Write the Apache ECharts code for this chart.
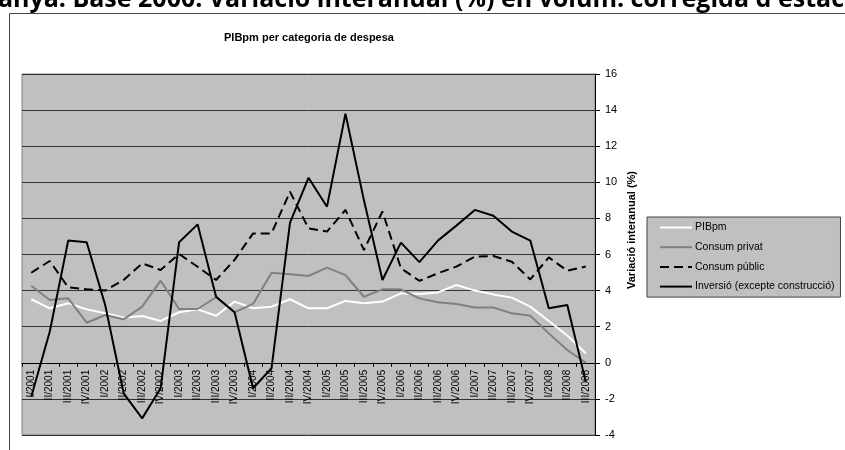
<!DOCTYPE html>
<html>
<head>
<meta charset="utf-8">
<script src="https://cdn.jsdelivr.net/npm/echarts@6/dist/echarts.min.js"></script>
<style>
  html, body { margin: 0; padding: 0; background: #fff; }
  #chart { width: 845px; height: 450px; }
</style>
</head>
<body>
<div id="chart"></div>
<script>
var categories = [
  'I/2001', 'II/2001', 'III/2001', 'IV/2001',
  'I/2002', 'II/2002', 'III/2002', 'IV/2002',
  'I/2003', 'II/2003', 'III/2003', 'IV/2003',
  'I/2004', 'II/2004', 'III/2004', 'IV/2004',
  'I/2005', 'II/2005', 'III/2005', 'IV/2005',
  'I/2006', 'II/2006', 'III/2006', 'IV/2006',
  'I/2007', 'II/2007', 'III/2007', 'IV/2007',
  'I/2008', 'II/2008', 'III/2008'
];

var pibpm = [3.52, 3.02, 3.3, 2.96, 2.74, 2.5, 2.59, 2.32, 2.8, 2.96, 2.61, 3.39, 3.02, 3.11, 3.52, 3.02,
  3.02, 3.43, 3.3, 3.39, 3.85, 3.81, 3.9, 4.31, 4.0, 3.79, 3.61, 3.11, 2.32, 1.51, 0.53];
var consumPrivat = [4.27, 3.48, 3.57, 2.22, 2.65, 2.41, 3.11, 4.55, 2.98, 2.98, 3.63, 2.8, 3.26, 4.99, 4.9, 4.81,
  5.27, 4.86, 3.66, 4.07, 4.07, 3.57, 3.35, 3.26, 3.06, 3.06, 2.74, 2.61, 1.63, 0.71, 0.0];
var consumPublic = [4.99, 5.64, 4.18, 4.07, 4.0, 4.59, 5.51, 5.14, 6.03, 5.32, 4.59, 5.7, 7.17, 7.17, 9.48, 7.45,
  7.27, 8.47, 6.25, 8.38, 5.24, 4.54, 4.96, 5.33, 5.88, 5.92, 5.6, 4.62, 5.84, 5.1, 5.33];
var inversio = [-1.88, 1.72, 6.77, 6.68, 3.2, -1.69, -3.08, -1.41, 6.68, 7.67, 3.66, 2.8, -1.41, -0.3, 7.76, 10.25,
  8.65, 13.8, 9.0, 4.59, 6.66, 5.58, 6.77, 7.6, 8.47, 8.15, 7.27, 6.77, 3.02, 3.2, -1.05];

var yTicks = { min: -4, max: 16, interval: 2 };

var font = 'Liberation Sans, Arial, sans-serif';
var gridTop = 74, gridBottom = 15;
var plotH = 450 - gridTop - gridBottom;
// category axis sits on the zero line, like the original
var zeroOffset = -plotH * (0 - yTicks.min) / (yTicks.max - yTicks.min);

var chart = echarts.init(document.getElementById('chart'));

var option = {
  backgroundColor: '#fff',
  animation: false,
  title: {
    text: 'PIBpm per categoria de despesa',
    left: 304,
    top: 27,
    textAlign: 'center',
    textStyle: { fontFamily: font, fontSize: 11, fontWeight: 'bold', color: '#000' }
  },
  graphic: [
    {
      type: 'rect',
      shape: { x: 9.5, y: 13.5, width: 900, height: 500 },
      style: { fill: 'none', stroke: '#444', lineWidth: 1 },
      z: -1
    },
    {
      type: 'text',
      x: -2, y: -13,
      style: {
        text: "anya. Base 2000. Variació interanual (%) en volum. corregida d'estacionalitat",
        font: 'bold 25px "Open Sans", sans-serif',
        fill: '#000'
      }
    },
    {
      type: 'text',
      x: 632, y: 230,
      rotation: Math.PI / 2,
      style: {
        text: 'Variació interanual (%)',
        font: 'bold 11px ' + font,
        fill: '#000',
        align: 'center',
        verticalAlign: 'middle'
      }
    }
  ],
  legend: {
    orient: 'vertical',
    left: 647,
    top: 217,
    backgroundColor: '#c0c0c0',
    borderColor: '#444',
    borderWidth: 1,
    borderRadius: 0,
    padding: [5, 6, 5, 12],
    itemWidth: 32,
    itemHeight: 10,
    itemGap: 8.7,
    itemStyle: { opacity: 0, borderWidth: 0 },
    textStyle: { fontFamily: font, fontSize: 10.5, color: '#000', padding: [0, 0, 0, -2] },
    data: ['PIBpm', 'Consum privat', 'Consum públic', 'Inversió (excepte construcció)']
  },
  grid: {
    left: 22, right: 250, top: gridTop, bottom: gridBottom,
    outerBoundsMode: 'none',
    containLabel: false,
    show: true,
    backgroundColor: '#c0c0c0',
    borderColor: '#808080',
    borderWidth: 1
  },
  xAxis: {
    type: 'category',
    data: categories,
    boundaryGap: true,
    position: 'bottom',
    offset: zeroOffset,
    axisLine: { onZero: false, lineStyle: { color: '#000', width: 1 } },
    axisTick: { show: true, length: 4, lineStyle: { color: '#000' } },
    axisLabel: {
      rotate: 90,
      interval: 0,
      margin: 7,
      fontFamily: font,
      fontSize: 10,
      color: '#000'
    },
    splitLine: { show: false }
  },
  yAxis: {
    type: 'value',
    position: 'right',
    min: yTicks.min,
    max: yTicks.max,
    interval: yTicks.interval,
    axisLine: { show: true, lineStyle: { color: '#000', width: 1 } },
    axisTick: { show: true, length: 5, lineStyle: { color: '#000' } },
    axisLabel: { margin: 10, fontFamily: font, fontSize: 11, color: '#000' },
    splitLine: { show: true, lineStyle: { color: '#333', width: 1 } }
  },
  series: [
    {
      name: 'PIBpm',
      type: 'line',
      data: pibpm,
      symbol: 'none',
      color: '#ffffff',
      lineStyle: { color: '#ffffff', width: 2 }
    },
    {
      name: 'Consum privat',
      type: 'line',
      data: consumPrivat,
      symbol: 'none',
      color: '#808080',
      lineStyle: { color: '#808080', width: 2 }
    },
    {
      name: 'Consum públic',
      type: 'line',
      data: consumPublic,
      symbol: 'none',
      color: '#000',
      lineStyle: { color: '#000', width: 2, type: [9, 5] }
    },
    {
      name: 'Inversió (excepte construcció)',
      type: 'line',
      data: inversio,
      symbol: 'none',
      color: '#000',
      lineStyle: { color: '#000', width: 2 }
    }
  ]
};

chart.setOption(option);
</script>
</body>
</html>
